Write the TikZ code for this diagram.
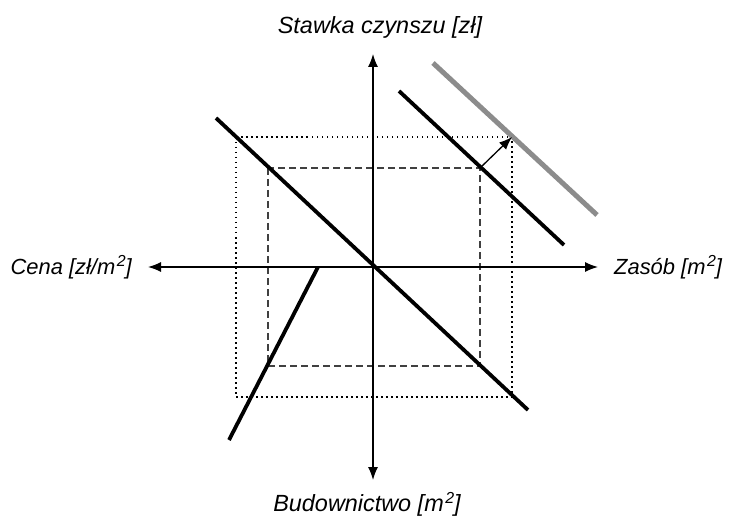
\documentclass[tikz,border=0pt]{standalone}
\usepackage{fontspec}
\setmainfont{Liberation Sans}
\usetikzlibrary{arrows.meta}
\newcommand{\sq}{\kern1.5bp\raisebox{8bp}{\fontsize{16}{19}\selectfont 2}}

\begin{document}
\begin{tikzpicture}[x=1bp, y=-1bp,
	every node/.style={font=\fontsize{23.5}{28}\selectfont\itshape, inner sep=0pt},
	side/.style={font=\fontsize{22}{26}\selectfont\itshape},
	axis/.style={line width=1.3bp, -{Latex[length=13bp,width=10bp]}},
	heavy/.style={line width=3.8bp},
	shifted/.style={line width=5bp, black!45},
	dotbox/.style={line width=1.3bp, dash pattern=on 1.5bp off 3.5bp},
	dashbox/.style={line width=1.3bp, black!75, dash pattern=on 7bp off 4bp}]
	\useasboundingbox (0,0) rectangle (729,519);
	% corners of the two boxes
	\coordinate (O) at (373,267);
	\coordinate (d1) at (236,137); \coordinate (d2) at (512,397);
	\coordinate (s1) at (268,168); \coordinate (s2) at (480,366);
	\draw[dotbox] (d1) rectangle (d2);
	\draw[dashbox] (s1) rectangle (s2);
	% axes
	\coordinate (W) at (148,267); \coordinate (E) at (598,267);
	\coordinate (N) at (373,54); \coordinate (S) at (373,480);
	\draw[axis] (O) -- (W);
	\draw[axis] (O) -- (E);
	\draw[axis] (O) -- (N);
	\draw[axis] (O) -- (S);
	\node[side, anchor=east] (cena) at (132,267) {Cena [zł/m\sq]};
	\node[side, anchor=west] (zasob) at (614,267) {Zasób [m\sq]};
	\node (stawka) at (380,27) {Stawka czynszu [zł]};
	\node (budow) at (367,504) {Budownictwo [m\sq]};
	% lines
	\draw[heavy] (216,118) -- (528,410);
	\draw[heavy] (399,91) -- (564,245);
	\draw[shifted] (433,63) -- (597,215);
	\draw[heavy] (318,267) -- (229,440);
	\draw[line width=1.3bp, -{Latex[length=13bp,width=10bp]}] (s2 |- s1) -- (d2 |- d1);
\end{tikzpicture}
\end{document}
